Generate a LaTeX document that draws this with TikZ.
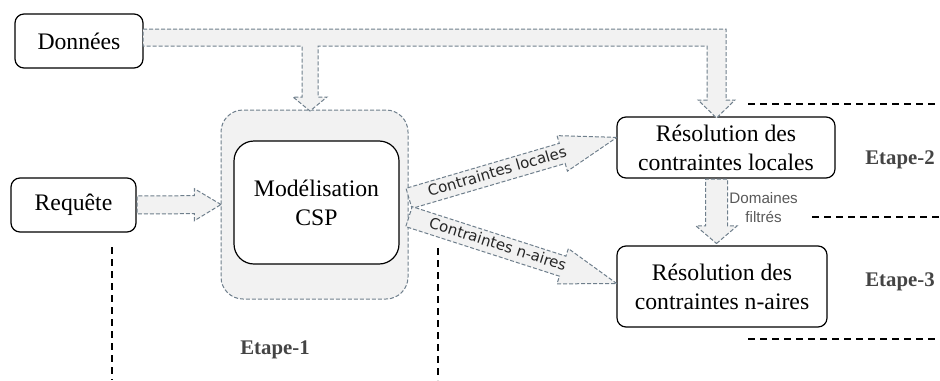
\documentclass[tikz,border=0pt]{standalone}
\usepackage{fontspec}
\setmainfont{Liberation Serif}
\newfontfamily\labelfont{DejaVu Sans}
\newfontfamily\notefont{Liberation Sans}
\usetikzlibrary{calc,shapes.arrows}
\definecolor{flowline}{HTML}{6F7F8C}
\definecolor{flowfill}{HTML}{F2F2F2}
\definecolor{etapegrey}{HTML}{444444}

\newcommand\flowarrow[4][]{%
  \path let \p1=(#2), \p2=(#3),
    \n1={atan2(\y2-\y1,\x2-\x1)}, \n2={veclen(\x2-\x1,\y2-\y1)} in
    node[flow, #1, rotate=\n1, minimum height=\n2, anchor=tail] at (\p1) {#4};}

\begin{document}
\begin{tikzpicture}[x=0.5pt,y=-0.5pt,
    box/.style={draw, line width=0.6pt, rounded corners=4.5pt, fill=white, align=center,
      inner sep=0pt, font=\fontsize{11.85}{14.5}\selectfont},
    shell/.style={draw=flowline, dash pattern=on 2pt off 1pt, line width=0.5pt, fill=flowfill,
      rounded corners=11pt, minimum width=93.5pt, minimum height=94.5pt},
    flow/.style={single arrow, draw=flowline, fill=flowfill, dash pattern=on 2pt off 1pt,
      line width=0.5pt, inner xsep=0pt, text height=0pt, text depth=0pt},
    lbl/.style={font=\labelfont\fontsize{7.5}{9}\selectfont, text=black!85,
      text height=5.8pt, text depth=1.6pt, inner ysep=1.3pt},
    note/.style={font=\notefont\fontsize{7.6}{9.5}\selectfont, text=black!65, align=center, inner sep=0pt},
    sep/.style={dash pattern=on 3.5pt off 2.5pt, line width=0.7pt},
    etape/.style={font=\bfseries\fontsize{10.4}{12}\selectfont, text=etapegrey}]
  \useasboundingbox (0,0) rectangle (940,380);
  \node[box, minimum width=64pt, minimum height=27pt] (don) at (79,41) {Données};
  \node[box, minimum width=62.5pt, minimum height=27pt] (req) at (73.5,205) {Requête};
  \node[shell] (csp) at (314.5,204.5) {};
  \node[box, rounded corners=10pt, minimum width=82.5pt, minimum height=61.5pt] (mod) at (316.5,202.5) {Modélisation\\CSP};
  \node[box, minimum width=109pt, minimum height=30.5pt] (loc) at (726,147.5) {Résolution des\\contraintes locales};
  \node[box, minimum width=105pt, minimum height=40.5pt] (nai) at (722,286.5) {Résolution des\\contraintes n-aires};

  % flux des donnees
  \draw[draw=flowline, fill=flowfill, dash pattern=on 2pt off 1pt, line width=0.5pt]
    (143,29) -- (726,29) -- (726,100) -- (735,100) -- (716.5,118) -- (698,100) -- (707,100)
    -- (707,46) -- (318,46) -- (318,97) -- (327,97) -- (310,111) -- (293,97) -- (302,97)
    -- (302,46) -- (143,46) -- cycle;
  \flowarrow[name=freq, inner ysep=4.25pt, single arrow head extend=3.5pt, single arrow tip angle=62]{req.east}{csp.west}{}
  \flowarrow[name=floc, lbl, single arrow head extend=4pt, single arrow tip angle=36]{$(csp.east)+(0,-6)$}{$(loc.west)+(0,-10)$}{Contraintes locales}
  \flowarrow[name=fnai, lbl, single arrow head extend=4pt, single arrow tip angle=36]{$(csp.east)+(0,12)$}{$(nai.west)+(0,-3)$}{Contraintes n-aires}
  \coordinate (dtip) at (716.5,243);
  \flowarrow[name=fdom, inner ysep=5.25pt, single arrow head extend=4.75pt, single arrow tip angle=99]{loc.south -| dtip}{dtip}{}
  \node[note, anchor=west] (dom) at (729,208) {Domaines\\filtrés};

  % etapes
  \draw[sep] (112,247) -- (112,380);
  \draw[sep] (438,248) -- (438,380);
  \draw[sep] (748,104) -- (940,104);
  \draw[sep] (812,217) -- (940,217);
  \draw[sep] (748,339) -- (940,339);
  \node[etape] (e1) at (275,350) {Etape-1};
  \node[etape] (e2) at (900,160) {Etape-2};
  \node[etape] (e3) at (900,282) {Etape-3};
\end{tikzpicture}
\end{document}
